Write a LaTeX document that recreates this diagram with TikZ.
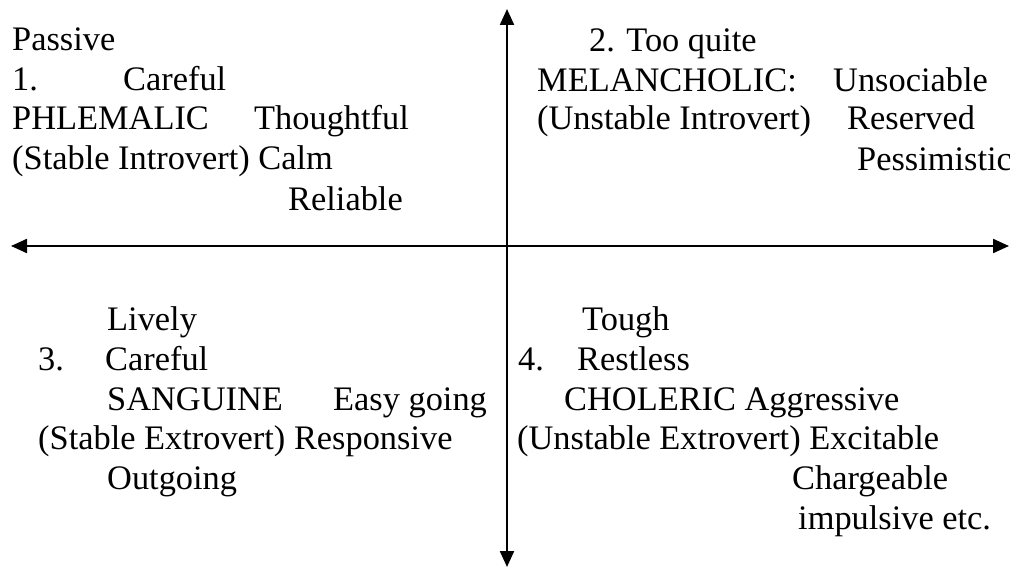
\documentclass[tikz,border=0pt]{standalone}
\usepackage{fontspec}
\setmainfont{Liberation Serif}
\usetikzlibrary{arrows.meta}
\begin{document}
\begin{tikzpicture}[x=1bp,y=-1bp,
  txt/.style={anchor=base west,inner sep=0pt,font=\fontsize{34.5}{40}\selectfont},
  axis/.style={line width=2.2bp,{Triangle[length=16bp,width=14bp]}-{Triangle[length=16bp,width=14bp]}}]
\useasboundingbox (0,0) rectangle (1010,569);
% axes
\coordinate (vtop) at (507,9);
\coordinate (vbot) at (507,567);
\coordinate (hleft) at (11,246);
\coordinate (hright) at (1009,246);
\draw[axis] (vtop) -- (vbot);
\draw[axis] (hleft) -- (hright);
% quadrant 1
\node[txt] (q1a) at (12,51) {Passive};
\node[txt] (q1b) at (12,91) {1.};
\node[txt] (q1c) at (123,91) {Careful};
\node[txt] (q1d) at (12,130) {PHLEMALIC};
\node[txt] (q1e) at (254,130) {Thoughtful};
\node[txt] (q1f) at (12,170) {(Stable Introvert) Calm};
\node[txt] (q1g) at (288,211) {Reliable};
% quadrant 2
\node[txt] (q2a) at (589,52) {2. Too quite};
\node[txt] (q2b) at (537,92) {MELANCHOLIC:};
\node[txt] (q2c) at (833,92) {Unsociable};
\node[txt] (q2d) at (537,130) {(Unstable Introvert)};
\node[txt] (q2e) at (847,130) {Reserved};
\node[txt] (q2f) at (857,171) {Pessimistic};
% quadrant 3
\node[txt] (q3a) at (107,330) {Lively};
\node[txt] (q3b) at (38,370) {3.};
\node[txt] (q3c) at (105,370) {Careful};
\node[txt] (q3d) at (107,410) {SANGUINE};
\node[txt] (q3e) at (333,410) {Easy going};
\node[txt] (q3f) at (38,449) {(Stable Extrovert) Responsive};
\node[txt] (q3g) at (107,489) {Outgoing};
% quadrant 4
\node[txt] (q4a) at (582,330) {Tough};
\node[txt] (q4b) at (518,370) {4.};
\node[txt] (q4c) at (577,370) {Restless};
\node[txt] (q4d) at (564,410) {CHOLERIC Aggressive};
\node[txt] (q4e) at (517,449) {(Unstable Extrovert) Excitable};
\node[txt] (q4f) at (792,489) {Chargeable};
\node[txt] (q4g) at (798,529) {impulsive etc.};
\end{tikzpicture}
\end{document}
